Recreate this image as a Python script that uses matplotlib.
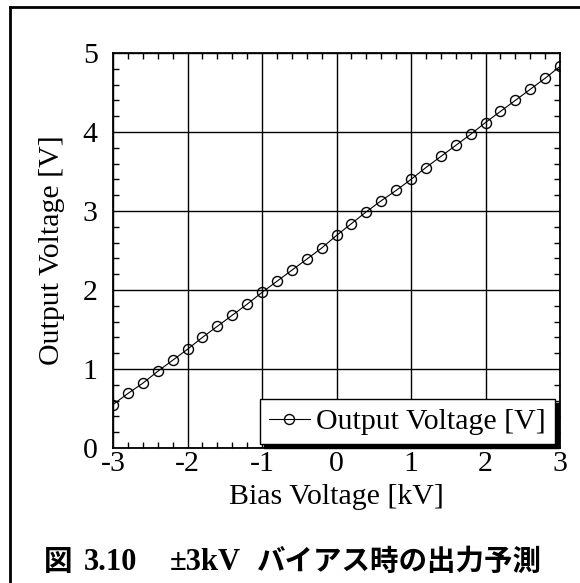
import matplotlib
matplotlib.use("Agg")
import matplotlib.pyplot as plt
from matplotlib.lines import Line2D
from matplotlib.ticker import MultipleLocator

# bias sweep in kV and measured output in V
bias_kv = [-3.0, -2.8, -2.6, -2.4, -2.2, -2.0, -1.8, -1.6, -1.4, -1.2, -1.0,
           -0.8, -0.6, -0.4, -0.2, 0.0, 0.2, 0.4, 0.6, 0.8, 1.0,
           1.2, 1.4, 1.6, 1.8, 2.0, 2.2, 2.4, 2.6, 2.8, 3.0]
output_v = [0.55, 0.69, 0.82, 0.97, 1.11, 1.25, 1.40, 1.54, 1.68, 1.82, 1.97,
            2.11, 2.25, 2.39, 2.53, 2.69, 2.84, 2.99, 3.13, 3.26, 3.40,
            3.55, 3.69, 3.83, 3.97, 4.12, 4.26, 4.40, 4.54, 4.68, 4.83]

x_ticks = [-3, -2, -1, 0, 1, 2, 3]
y_ticks = [0, 1, 2, 3, 4, 5]

plt.rcParams['font.family'] = ['Liberation Serif', 'Noto Sans CJK JP']

FS = 21.5
W, H = 580, 583
fig = plt.figure(figsize=(W / 100, H / 100), dpi=100)
ax = fig.add_axes([113 / W, 1 - 448 / H, (560 - 113) / W, (448 - 53) / H])

ax.plot(bias_kv, output_v, color='black', linewidth=0.8, marker='o',
        markersize=7.2, markerfacecolor='none', markeredgecolor='black',
        markeredgewidth=1.0, label='Output Voltage [V]', zorder=3)

ax.set_xlim(-3, 3)
ax.set_ylim(0, 5)
ax.set_xticks(x_ticks)
ax.set_yticks(y_ticks)
ax.set_xticklabels([str(t) for t in x_ticks])
ax.xaxis.set_minor_locator(MultipleLocator(0.2))
ax.yaxis.set_minor_locator(MultipleLocator(0.2))
ax.grid(True, which='major', color='black', linewidth=1.0)
ax.tick_params(which='both', direction='in', top=True, right=True,
               labelsize=FS, width=1.0)
ax.tick_params(which='major', length=0)
ax.tick_params(which='minor', length=4)
ax.tick_params(axis='x', pad=2)
ax.tick_params(axis='y', pad=11)
for sp in ax.spines.values():
    sp.set_linewidth(1.3)

ax.set_xlabel('Bias Voltage [kV]', fontsize=FS, labelpad=5)
ax.set_ylabel('Output Voltage [V]', fontsize=FS, labelpad=13)

leg = ax.legend(loc='lower right', bbox_to_anchor=(0.989, 0.010),
                borderaxespad=0, fontsize=FS, fancybox=False,
                handlelength=1.4, handletextpad=0.2, borderpad=0.3,
                shadow={'color': 'black', 'alpha': 1, 'ox': 3, 'oy': -3})
leg.get_frame().set_edgecolor('black')
leg.get_frame().set_linewidth(1.0)
leg.get_frame().set_alpha(1)

# page frame: top rule and left rule
fig.add_artist(Line2D([10 / W, 1], [1 - 7 / H, 1 - 7 / H],
                      transform=fig.transFigure, color='black', linewidth=2))
fig.add_artist(Line2D([10 / W, 10 / W], [0, 1 - 7 / H],
                      transform=fig.transFigure, color='black', linewidth=2))

# figure caption
cap_y = 1 - 562 / H
cjk = ['Noto Sans CJK JP']
fig.text(44 / W, cap_y, '図', fontsize=20.5, fontweight='bold',
         va='center', family=cjk)
fig.text(84 / W, cap_y, '3.10', fontsize=22, fontweight='bold', va='center')
fig.text(170 / W, cap_y, '±3kV', fontsize=22, fontweight='bold', va='center')
fig.text(257 / W, cap_y, 'バイアス時の出力予測', fontsize=20.5,
         fontweight='bold', va='center', family=cjk)

fig.savefig('out.png', dpi=100)
